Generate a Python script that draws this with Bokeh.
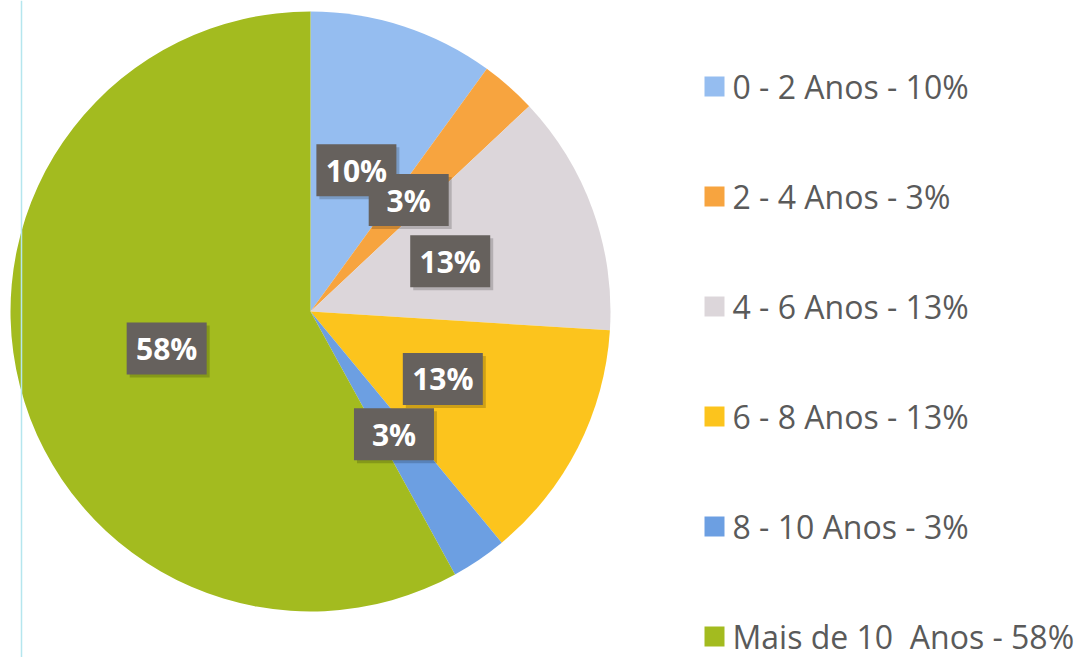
import numpy as np
from bokeh.plotting import figure
from bokeh.models import Range1d, ColumnDataSource, Span
from bokeh.core.properties import value
from bokeh.embed import file_html
from bokeh.resources import INLINE

# ---- data ----
categories = ["0 - 2 Anos", "2 - 4 Anos", "4 - 6 Anos", "6 - 8 Anos", "8 - 10 Anos", "Mais de 10\u00a0 Anos"]
percent = [10, 3, 13, 13, 3, 58]
colors = ["#95bdf0", "#f7a43f", "#dcd6da", "#fcc41d", "#6c9fe2", "#a3bb1f"]

# ---- layout (page pixel coordinates, y downwards -> negated) ----
W, H = 1087, 657
p = figure(width=W, height=H, output_backend="svg", toolbar_location=None,
           x_range=Range1d(0, W), y_range=Range1d(-H, 0),
           min_border=0, outline_line_color=None, background_fill_color="white",
           border_fill_color="white")
p.axis.visible = False
p.grid.visible = False

cx, cy, R = 310.0, -311.0, 300.0
total = float(sum(percent))
frac = np.array(percent) / total
cum_end = np.cumsum(frac)
cum_start = cum_end - frac
start_angle = np.pi / 2 - 2 * np.pi * cum_start
end_angle = np.pi / 2 - 2 * np.pi * cum_end
mid = np.pi / 2 - 2 * np.pi * (cum_start + cum_end) / 2

# scan artefact line
p.add_layout(Span(location=21, dimension="height", line_color="#b5e6ee", line_width=1.5))

src = ColumnDataSource(dict(start=start_angle, end=end_angle, color=colors))
p.wedge(x=cx, y=cy, radius=R, start_angle="start", end_angle="end", direction="clock",
        fill_color="color", line_color=None, source=src)

# data labels
lr = 0.495 * R
lx = cx + lr * np.cos(mid)
ly = cy + lr * np.sin(mid)
labels = [f"{v}%" for v in percent]
lsrc = ColumnDataSource(dict(x=lx, y=ly, xs=lx + 3, ys=ly - 3, text=labels))
p.rect(x="xs", y="ys", width=80, height=52, fill_color="#000000", fill_alpha=0.18,
       line_color=None, source=lsrc)
p.rect(x="x", y="y", width=80, height=52, fill_color="#66615d", line_color=None, source=lsrc)
p.text(x="x", y="y", text="text", source=lsrc, text_color="white",
       text_font=value("Open Sans"), text_font_style="bold", text_font_size="30px",
       text_align="center", text_baseline="middle")

# legend
leg_y = -(86 + 110 * np.arange(len(categories)))
leg_text = [f"{c} - {v}%" for c, v in zip(categories, percent)]
gsrc = ColumnDataSource(dict(y=leg_y, color=colors, text=leg_text))
p.rect(x=714, y="y", width=20, height=20, fill_color="color", line_color=None, source=gsrc)
p.text(x=732, y="y", text="text", source=gsrc, text_color="#5a5a5a",
       text_font=value("Open Sans"), text_font_size="32px",
       text_align="left", text_baseline="middle")

open("out.html", "w").write(file_html(p, INLINE))
